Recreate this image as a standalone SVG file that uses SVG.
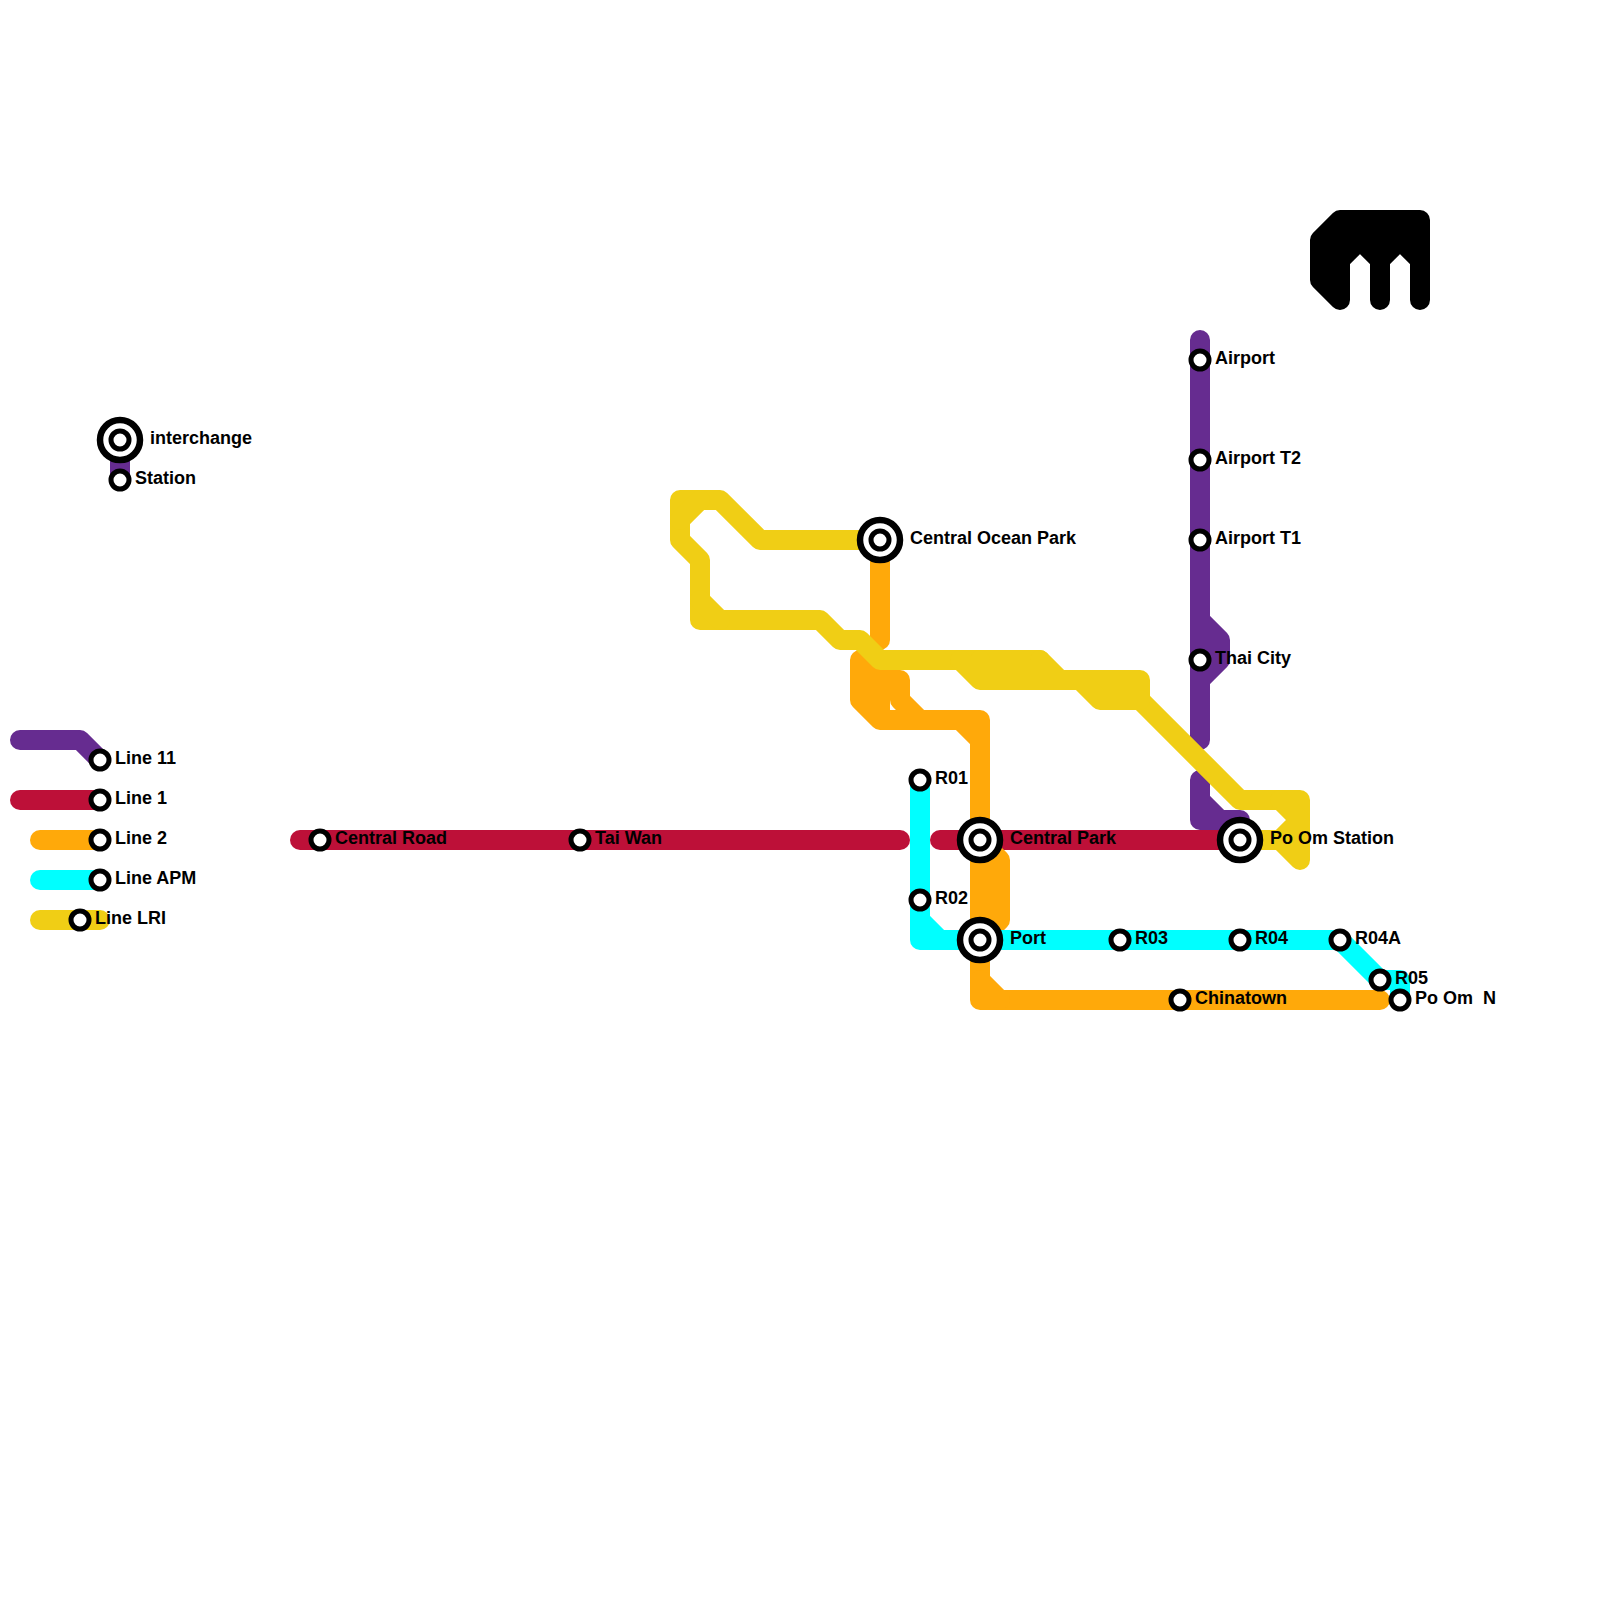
<svg xmlns="http://www.w3.org/2000/svg" width="1600" height="1600" viewBox="0 0 1600 1600">
<style>
.l{fill:none;stroke-width:20;stroke-linecap:round;stroke-linejoin:round}
.p{stroke:#662c90}.r{stroke:#bd1038}.o{stroke:#ffa90a}.c{stroke:#00ffff}.y{stroke:#f0ce15}
.k{fill:#000;stroke:#000;stroke-width:20;stroke-linejoin:round;stroke-linecap:round}
.s{fill:#fff;stroke:#000;stroke-width:5}
.i{fill:#fff;stroke:#000;stroke-width:6.5}
text{font-family:"Liberation Sans",Arial,sans-serif;font-weight:700;font-size:18px;fill:#000}
</style>
<rect width="1600" height="1600" fill="#fff"/>
<g id="connectors">
<path class="l p" d="M120 440V480"/>
<path class="l p" d="M20 740H80L100 760"/>
<path class="l p" d="M1200 340V740M1200 620L1220 640V660L1200 680"/>
<path class="l p" d="M1200 780V820H1240M1200 800L1220 820"/>
<path class="l r" d="M20 800H100"/>
<path class="l r" d="M300 840H900"/>
<path class="l r" d="M940 840H1240"/>
<path class="l o" d="M40 840H100"/>
<path class="l o" d="M880 540V640"/>
<path class="l o" d="M860 660V700L880 720H980V1000H1380M860 660L880 680H900V700L920 720M880 680V720M860 680H900M960 720L980 740"/>
<path class="l o" d="M980 840L1000 860V920L980 940M980 980L1000 1000"/>
<path class="l c" d="M40 880H100"/>
<path class="l c" d="M920 780V940H1340L1380 980H1400V1000M920 920L940 940"/>
<path class="l y" d="M40 920H100"/>
<path class="l y" d="M880 540H760L720 500H680V540L700 560V620H820L840 640H860L880 660H1040L1060 680H1140V700L1240 800H1300V860L1280 840H1240"/>
<path class="l y" d="M700 500L680 520M700 600L720 620M960 660L980 680H1080L1100 700H1140M980 660V680M1040 660V680M1280 800L1300 820L1280 840"/>
<path class="k" d="M1340 220H1420V300V260L1400 240L1380 260V300V260L1360 240L1340 260V300L1320 280V240Z"/>
</g>
<g id="n-interchange"><circle class="i" cx="120" cy="440" r="20"/><circle class="s" cx="120" cy="440" r="9"/><text x="150" y="444">interchange</text></g>
<g id="n-station"><circle class="s" cx="120" cy="480" r="9"/><text x="135" y="484">Station</text></g>
<g id="n-line11"><circle class="s" cx="100" cy="760" r="9"/><text x="115" y="764">Line 11</text></g>
<g id="n-line1"><circle class="s" cx="100" cy="800" r="9"/><text x="115" y="804">Line 1</text></g>
<g id="n-line2"><circle class="s" cx="100" cy="840" r="9"/><text x="115" y="844">Line 2</text></g>
<g id="n-lineapm"><circle class="s" cx="100" cy="880" r="9"/><text x="115" y="884">Line APM</text></g>
<g id="n-linelri"><circle class="s" cx="80" cy="920" r="9"/><text x="95" y="924">Line LRI</text></g>
<g id="n-central-road"><circle class="s" cx="320" cy="840" r="9"/><text x="335" y="844">Central Road</text></g>
<g id="n-tai-wan"><circle class="s" cx="580" cy="840" r="9"/><text x="595" y="844">Tai Wan</text></g>
<g id="n-central-ocean-park"><circle class="i" cx="880" cy="540" r="20"/><circle class="s" cx="880" cy="540" r="9"/><text x="910" y="544">Central Ocean Park</text></g>
<g id="n-r01"><circle class="s" cx="920" cy="780" r="9"/><text x="935" y="784">R01</text></g>
<g id="n-r02"><circle class="s" cx="920" cy="900" r="9"/><text x="935" y="904">R02</text></g>
<g id="n-central-park"><circle class="i" cx="980" cy="840" r="20"/><circle class="s" cx="980" cy="840" r="9"/><text x="1010" y="844">Central Park</text></g>
<g id="n-port"><circle class="i" cx="980" cy="940" r="20"/><circle class="s" cx="980" cy="940" r="9"/><text x="1010" y="944">Port</text></g>
<g id="n-r03"><circle class="s" cx="1120" cy="940" r="9"/><text x="1135" y="944">R03</text></g>
<g id="n-r04"><circle class="s" cx="1240" cy="940" r="9"/><text x="1255" y="944">R04</text></g>
<g id="n-r04a"><circle class="s" cx="1340" cy="940" r="9"/><text x="1355" y="944">R04A</text></g>
<g id="n-r05"><circle class="s" cx="1380" cy="980" r="9"/><text x="1395" y="984">R05</text></g>
<g id="n-po-om-n"><circle class="s" cx="1400" cy="1000" r="9"/><text x="1415" y="1004" xml:space="preserve">Po Om  N</text></g>
<g id="n-chinatown"><circle class="s" cx="1180" cy="1000" r="9"/><text x="1195" y="1004">Chinatown</text></g>
<g id="n-airport"><circle class="s" cx="1200" cy="360" r="9"/><text x="1215" y="364">Airport</text></g>
<g id="n-airport-t2"><circle class="s" cx="1200" cy="460" r="9"/><text x="1215" y="464">Airport T2</text></g>
<g id="n-airport-t1"><circle class="s" cx="1200" cy="540" r="9"/><text x="1215" y="544">Airport T1</text></g>
<g id="n-thai-city"><circle class="s" cx="1200" cy="660" r="9"/><text x="1215" y="664">Thai City</text></g>
<g id="n-po-om-station"><circle class="i" cx="1240" cy="840" r="20"/><circle class="s" cx="1240" cy="840" r="9"/><text x="1270" y="844">Po Om Station</text></g>
</svg>
